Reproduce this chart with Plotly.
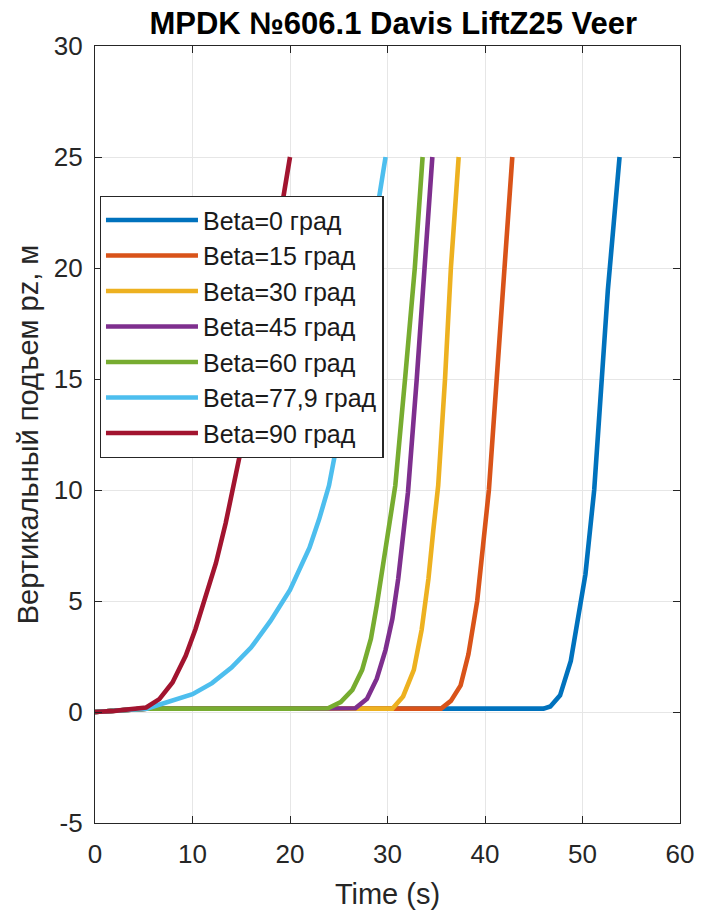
import plotly.graph_objects as go

title_text = "MPDK №606.1 Davis LiftZ25 Veer"
x_title = "Time (s)"
y_title = "Вертикальный подъем pz, м"

names = ["Beta=0 град", "Beta=15 град", "Beta=30 град", "Beta=45 град",
         "Beta=60 град", "Beta=77,9 град", "Beta=90 град"]
colors = ["#0072BD", "#D95319", "#EDB120", "#7E2F8E", "#77AC30", "#4DBEEE", "#A2142F"]

t_b0 = [0, 5.3, 20, 40, 46.0, 46.7, 47.7, 48.8, 49.7, 50.3, 51.2, 51.9, 52.6, 53.2, 53.8]
z_b0 = [0, 0.15, 0.15, 0.15, 0.15, 0.25, 0.75, 2.3, 4.5, 6.2, 10, 14.5, 19, 22, 25]

t_b15 = [0, 5.3, 20, 35.5, 36.5, 37.5, 38.3, 39.2, 39.8, 40.4, 41.2, 42.0, 42.8]
z_b15 = [0, 0.15, 0.15, 0.15, 0.5, 1.2, 2.6, 5.0, 7.5, 10, 15, 20, 25]

t_b30 = [0, 5.3, 20, 30.5, 31.6, 32.7, 33.5, 34.2, 34.7, 35.2, 35.9, 36.5, 37.3]
z_b30 = [0, 0.15, 0.15, 0.15, 0.7, 1.9, 3.7, 6.0, 8.2, 10.2, 15, 20, 25]

t_b45 = [0, 5.3, 20, 26.7, 27.9, 28.9, 29.8, 30.5, 31.1, 31.6, 32.1, 33.0, 33.8, 34.6]
z_b45 = [0, 0.15, 0.15, 0.17, 0.6, 1.5, 2.8, 4.2, 6.0, 7.8, 9.9, 15, 20, 25]

t_b60 = [0, 5.3, 20, 23.9, 25.2, 26.4, 27.4, 28.3, 28.9, 29.4, 29.9, 30.4, 30.8, 31.8, 32.8, 33.6]
z_b60 = [0, 0.15, 0.15, 0.17, 0.45, 1.0, 1.9, 3.3, 4.8, 6.3, 7.8, 9.3, 10.2, 15, 20, 25]

t_b78 = [0, 5.3, 6, 8, 10, 12, 14, 16, 18, 20, 21, 22, 23, 24, 25, 26, 27, 28, 29, 29.8]
z_b78 = [0, 0.15, 0.25, 0.5, 0.8, 1.3, 2.0, 2.9, 4.1, 5.5, 6.4, 7.4, 8.7, 10.2, 12.5, 15.2, 17.8, 20.3, 22.8, 25]

t_b90 = [0, 2, 5.25, 6.6, 7.95, 9.3, 10.3, 11.3, 12.4, 13.4, 14.2, 15.2, 16, 17, 18, 19, 20]
z_b90 = [0, 0.05, 0.2, 0.58, 1.33, 2.53, 3.73, 5.08, 6.7, 8.5, 10.3, 12.3, 14.4, 17, 19.6, 22.3, 25]

series_t = [t_b0, t_b15, t_b30, t_b45, t_b60, t_b78, t_b90]
series_z = [z_b0, z_b15, z_b30, z_b45, z_b60, z_b78, z_b90]

x_ticks = [0, 10, 20, 30, 40, 50, 60]
y_ticks = [-5, 0, 5, 10, 15, 20, 25, 30]
x_ticklabels = [str(v) for v in x_ticks]
y_ticklabels = [str(v) for v in y_ticks]

FONT = "Liberation Sans, Arial, Helvetica, sans-serif"
AX = "#262626"

fig = go.Figure()
for i, (t, z) in enumerate(zip(series_t, series_z)):
    fig.add_trace(go.Scatter(x=t, y=z, mode="lines", name=names[i],
                             legendgroup=f"g{i}",
                             line=dict(color=colors[i], width=4.6)))

axis_common = dict(showline=True, linecolor=AX, linewidth=1.3, mirror="ticks",
                   ticks="inside", ticklen=7, tickwidth=1.2, tickcolor=AX,
                   showgrid=True, gridcolor="#e6e6e6", gridwidth=1,
                   zeroline=False, tickfont=dict(family=FONT, size=26, color=AX))

fig.update_layout(
    width=706, height=917,
    margin=dict(l=95, r=20, t=46, b=93),
    paper_bgcolor="white", plot_bgcolor="white",
    title=dict(text=f"<b>{title_text}</b>", x=0.557, xanchor="center", y=0.975,
               yanchor="middle", font=dict(family=FONT, size=31, color="black")),
    xaxis=dict(range=[0, 60], tickvals=x_ticks, ticktext=x_ticklabels, ticklabelstandoff=8,
               title=dict(text=x_title, font=dict(family=FONT, size=29, color=AX), standoff=15),
               **axis_common),
    yaxis=dict(range=[-5, 30], tickvals=y_ticks, ticktext=y_ticklabels, ticklabelstandoff=6,
               title=dict(text=y_title, font=dict(family=FONT, size=29, color=AX), standoff=6),
               **axis_common),
    legend=dict(x=0.008, y=0.807, xanchor="left", yanchor="top",
                bgcolor="white", bordercolor=AX, borderwidth=1.3,
                font=dict(family=FONT, size=25, color="#1a1a1a"),
                itemwidth=92, tracegroupgap=0, traceorder="normal"),
    showlegend=True,
)

fig.write_html("out.html")
